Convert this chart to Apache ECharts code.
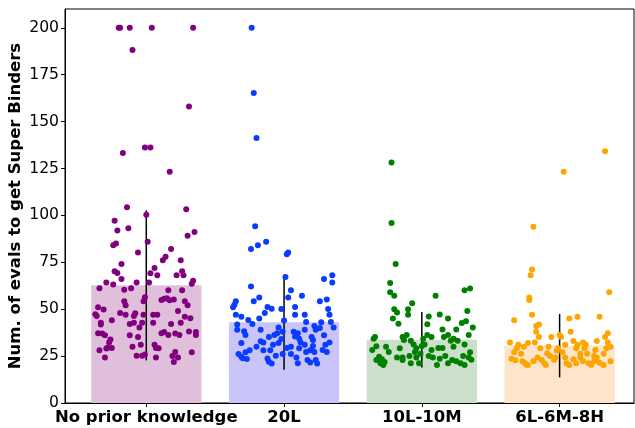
<!DOCTYPE html>
<html>
<head>
<meta charset="utf-8">
<script src="https://cdn.jsdelivr.net/npm/echarts@6/dist/echarts.min.js"></script>
<style>
html, body { margin: 0; padding: 0; background: #fff; }
#chart { width: 635px; height: 428px; }
</style>
</head>
<body>
<div id="chart"></div>
<script>
// categories and bar values (mean +- spread)
const categories = ['No prior knowledge', '20L', '10L-10M', '6L-6M-8H'];
const barMeans = [62.7, 43.0, 33.7, 30.6];
const barErrors = [40.0, 25.3, 14.8, 16.9];
const yTicks = [0, 25, 50, 75, 100, 125, 150, 175, 200];

// points: [x offset from category centre, value]
const pointsNoPrior = [
  [-0.20, 200], [-0.19, 200], [-0.12, 200], [0.04, 200], [0.34, 200], [-0.10, 188.1], [0.31, 158.0],
  [-0.01, 136.2], [0.03, 136.2], [-0.17, 133.2], [0.17, 123.2],
  [-0.14, 104.4], [0.29, 103.3], [0.00, 100.3], [-0.23, 97.2], [-0.21, 91.9], [-0.13, 93.2], [0.35, 91.2],
  [0.30, 89.2], [0.01, 86.0], [-0.24, 84.1], [-0.22, 85.0], [0.18, 82.1], [-0.06, 80.2], [0.14, 77.9],
  [0.12, 76.1], [0.25, 76.1], [-0.18, 74.1], [0.06, 72.0], [-0.23, 70.2], [-0.21, 69.3], [0.03, 69.1],
  [0.08, 68.1], [0.26, 70.2], [0.22, 68.1], [0.27, 68.1], [-0.18, 66.1], [0.34, 65.2], [0.33, 63.5],
  [-0.29, 64.2], [-0.24, 63.1], [-0.07, 64.2], [0.02, 64.2], [-0.34, 61.2], [-0.16, 60.3], [-0.11, 61.2],
  [0.16, 60.1], [0.26, 60.1], [-0.01, 56.4], [-0.02, 54.2], [-0.16, 54.2], [-0.15, 52.1], [0.11, 54.9],
  [0.13, 55.6], [0.15, 55.8], [0.17, 54.7], [0.20, 55.1], [0.28, 54.2], [0.30, 52.1], [-0.35, 51.0],
  [-0.31, 49.9], [0.23, 49.0], [-0.19, 48.0], [-0.37, 47.3], [-0.36, 46.4], [-0.15, 47.0], [-0.08, 47.9],
  [-0.09, 46.4], [-0.02, 47.1], [0.05, 47.1], [0.08, 47.1], [0.28, 46.0], [0.32, 45.2], [-0.25, 44.1],
  [-0.09, 42.8], [-0.12, 42.1], [-0.03, 42.8], [0.05, 42.8], [0.18, 42.1], [0.25, 42.8], [-0.33, 42.8],
  [-0.33, 41.9], [-0.05, 40.2], [-0.35, 37.2], [-0.32, 37.0], [-0.30, 36.1], [-0.12, 36.1], [-0.06, 35.2],
  [0.11, 37.2], [0.13, 37.9], [0.16, 36.3], [0.21, 37.0], [0.24, 36.3], [0.31, 38.1], [0.36, 37.9],
  [0.36, 36.3], [-0.26, 33.8], [-0.27, 32.2], [-0.28, 29.5], [-0.25, 29.3], [-0.29, 29.0], [-0.34, 28.1],
  [-0.10, 30.0], [-0.04, 31.1], [0.06, 31.0], [0.07, 29.3], [0.09, 29.2], [-0.30, 24.2], [-0.07, 25.2],
  [-0.03, 25.2], [-0.01, 25.9], [0.07, 24.2], [0.19, 25.1], [0.21, 27.2], [0.23, 24.2], [0.20, 21.9],
  [0.33, 27.1]
];
const points20L = [
  [-0.235, 200], [-0.22, 165.2], [-0.20, 141.2],
  [-0.21, 94.2], [-0.24, 82.1], [-0.19, 84.1], [-0.13, 86.0], [0.02, 79.3], [0.03, 80.2], [0.01, 67.2],
  [0.29, 66.1], [0.35, 68.1], [0.35, 64.2], [-0.24, 62.1], [0.05, 60.1], [0.13, 57.1], [-0.18, 56.2],
  [-0.22, 54.2], [0.03, 56.2], [-0.35, 54.2], [-0.36, 52.4], [-0.37, 51.0], [0.26, 54.2], [0.31, 55.1],
  [-0.12, 51.2], [-0.09, 50.3], [-0.02, 50.1], [0.08, 51.2], [0.32, 50.1], [-0.35, 47.1], [-0.31, 46.0],
  [-0.14, 48.0], [0.08, 47.1], [0.15, 47.1], [0.33, 47.1], [-0.26, 44.2], [-0.23, 42.1], [-0.18, 45.1],
  [0.00, 44.0], [0.16, 43.2], [0.27, 43.0], [0.34, 43.2], [-0.34, 41.9], [-0.34, 39.1], [-0.29, 38.2],
  [-0.28, 36.3], [-0.17, 39.1], [-0.04, 40.2], [-0.01, 38.0], [0.07, 38.0], [0.10, 37.2], [0.15, 39.1],
  [0.22, 41.0], [0.23, 39.1], [0.26, 40.0], [0.36, 40.2], [-0.05, 37.2], [-0.07, 36.3], [-0.11, 35.2],
  [0.08, 35.4], [0.11, 34.3], [0.20, 35.2], [0.29, 36.1], [-0.31, 32.0], [-0.17, 32.9], [-0.15, 32.2],
  [-0.08, 31.1], [-0.04, 32.0], [-0.02, 34.1], [0.12, 32.4], [0.15, 31.1], [0.21, 30.4], [0.30, 31.1],
  [0.33, 32.2], [-0.20, 30.0], [-0.15, 28.1], [-0.10, 28.1], [0.02, 29.3], [0.05, 30.0], [0.11, 29.2],
  [0.16, 27.2], [0.19, 28.1], [0.22, 27.2], [0.28, 28.3], [0.31, 27.2], [-0.25, 28.1], [-0.28, 27.0],
  [-0.33, 26.1], [-0.31, 24.7], [-0.30, 23.9], [-0.27, 23.4], [-0.12, 23.7], [-0.11, 22.0], [-0.09, 21.0],
  [-0.06, 25.2], [-0.01, 26.1], [0.05, 26.1], [0.09, 24.2], [0.10, 21.2], [0.17, 22.9], [0.19, 21.6],
  [0.23, 22.9], [0.24, 21.0], [0.21, 33.6]
];
const points10L10M = [
  [-0.22, 128.2], [-0.22, 96.0], [-0.19, 74.1], [-0.23, 64.0], [-0.23, 59.0], [-0.20, 57.1], [0.10, 57.1],
  [0.31, 60.1], [0.35, 61.0], [-0.07, 53.2], [-0.20, 50.0], [-0.18, 48.2], [-0.10, 50.0], [-0.10, 47.0],
  [-0.21, 45.0], [-0.17, 42.2], [0.13, 47.2], [0.19, 45.0], [0.33, 49.1], [0.32, 43.6], [0.29, 42.6],
  [0.37, 40.2], [0.05, 46.1], [0.04, 42.0], [0.15, 39.2], [0.25, 39.2], [0.34, 36.2], [-0.34, 35.2],
  [-0.35, 34.2], [-0.14, 35.2], [-0.11, 36.2], [-0.08, 33.2], [0.01, 34.2], [0.04, 36.2], [0.07, 35.2],
  [0.16, 35.2], [0.19, 36.2], [0.21, 33.2], [0.23, 34.2], [0.26, 33.2], [0.31, 31.2], [-0.36, 28.3],
  [-0.33, 30.2], [-0.26, 30.0], [-0.24, 27.2], [-0.16, 29.2], [-0.06, 31.2], [-0.04, 29.2], [0.00, 30.4],
  [0.02, 31.2], [0.12, 29.3], [0.15, 29.3], [0.23, 30.0], [0.07, 28.3], [-0.05, 27.2], [-0.01, 26.3],
  [0.35, 27.1], [-0.31, 24.7], [-0.29, 23.3], [-0.30, 21.2], [-0.28, 20.2], [-0.33, 22.9], [-0.18, 24.2],
  [-0.14, 24.2], [-0.14, 22.9], [-0.09, 25.1], [-0.08, 21.2], [-0.04, 24.2], [-0.02, 21.2], [0.05, 25.1],
  [0.08, 24.2], [0.11, 20.2], [0.13, 23.6], [0.17, 25.1], [0.19, 21.2], [0.22, 22.9], [0.25, 22.3],
  [0.28, 21.2], [0.31, 20.2], [0.30, 25.1], [0.34, 24.2], [0.36, 23.1], [-0.27, 21.9], [-0.13, 33.6]
];
const points6L6M8H = [
  [0.33, 134.2], [0.03, 123.2], [-0.19, 94.0], [-0.20, 71.1], [-0.21, 68.1], [-0.22, 56.2], [-0.22, 54.9],
  [0.36, 59.0], [-0.20, 47.1], [-0.33, 44.1], [0.07, 45.0], [0.13, 46.0], [0.29, 46.0], [-0.15, 41.9],
  [-0.17, 41.0], [-0.17, 38.0], [0.08, 38.0], [0.35, 37.2], [-0.15, 35.2], [-0.06, 35.2], [0.00, 36.2],
  [0.01, 35.2], [0.33, 35.2], [-0.36, 32.2], [-0.30, 31.1], [-0.23, 32.0], [-0.18, 32.2], [0.04, 31.0],
  [0.10, 33.1], [0.13, 31.1], [0.17, 32.2], [0.19, 31.1], [0.27, 33.1], [0.35, 32.2], [-0.26, 30.0],
  [-0.31, 29.2], [-0.14, 29.2], [-0.08, 30.0], [-0.01, 29.2], [0.12, 29.2], [0.18, 29.2], [0.26, 28.3],
  [0.34, 29.2], [0.37, 30.0], [-0.33, 27.1], [-0.28, 26.2], [-0.09, 26.5], [-0.07, 25.1], [-0.02, 28.0],
  [0.02, 27.1], [0.15, 26.2], [0.20, 26.2], [0.25, 25.1], [0.27, 24.2], [0.32, 26.2], [-0.35, 23.6],
  [-0.32, 22.8], [-0.27, 22.3], [-0.25, 21.2], [-0.23, 20.2], [-0.19, 22.3], [-0.16, 24.2], [-0.13, 22.9],
  [-0.11, 21.2], [-0.10, 20.2], [-0.04, 23.1], [-0.03, 24.2], [0.04, 24.2], [0.05, 21.2], [0.07, 20.2],
  [0.10, 23.3], [0.12, 21.2], [0.15, 24.2], [0.17, 22.3], [0.21, 21.2], [0.23, 20.2], [0.25, 22.3],
  [0.29, 21.4], [0.32, 20.2], [0.37, 22.3], [-0.24, 20.4]
];

const pointSets = [pointsNoPrior, points20L, points10L10M, points6L6M8H];
const dotColors = ['#800080', '#0a3cff', '#008000', '#ffa500'];
const barColors = ['#e0bfdb', '#c9c5fb', '#cbdfca', '#fee4c8'];
const barHalfWidth = 0.4;

const chart = echarts.init(document.getElementById('chart'));

const scatterSeries = pointSets.map((pts, i) => ({
  type: 'scatter',
  data: pts.map(p => [i + p[0], p[1]]),
  symbolSize: 6,
  itemStyle: { color: dotColors[i], opacity: 1 },
  z: 4
}));

const option = {
  animation: false,
  grid: {
    left: 65, right: 1, top: 9, bottom: 25,
    outerBoundsMode: 'none', containLabel: false,
    show: true, borderColor: '#000', borderWidth: 1, backgroundColor: 'transparent'
  },
  xAxis: {
    type: 'value',
    min: -0.59,
    max: 3.54,
    splitLine: { show: false },
    axisLine: { show: true, onZero: false, lineStyle: { color: '#000' } },
    axisTick: { show: true, customValues: [0, 1, 2, 3], length: 4, lineStyle: { color: '#000' } },
    axisLabel: {
      customValues: [0, 1, 2, 3],
      formatter: v => categories[Math.round(v)],
      color: '#000', fontFamily: 'DejaVu Sans', fontWeight: 'bold', fontSize: 16.5, margin: 6
    }
  },
  yAxis: {
    type: 'value',
    min: 0,
    max: 210,
    interval: 25,
    name: 'Num. of evals to get Super Binders',
    nameLocation: 'middle',
    nameGap: 41,
    nameMoveOverlap: false,
    nameTextStyle: { color: '#000', fontFamily: 'DejaVu Sans', fontWeight: 'bold', fontSize: 16.5 },
    splitLine: { show: false },
    axisLine: { show: true, onZero: false, lineStyle: { color: '#000' } },
    axisTick: { show: true, customValues: yTicks, length: 4, lineStyle: { color: '#000' } },
    axisLabel: {
      customValues: yTicks,
      color: '#000', fontFamily: 'DejaVu Sans', fontSize: 15.6, margin: 6
    }
  },
  series: [
    {
      // bars drawn through the axes' scales
      type: 'custom',
      data: barMeans.map((m, i) => [i, m]),
      renderItem: (params, api) => {
        const i = api.value(0);
        const tl = api.coord([i - barHalfWidth, api.value(1)]);
        const br = api.coord([i + barHalfWidth, 0]);
        return {
          type: 'rect',
          shape: { x: tl[0], y: tl[1], width: br[0] - tl[0], height: br[1] - tl[1] },
          style: { fill: barColors[params.dataIndex] }
        };
      },
      z: 1
    },
    {
      type: 'custom',
      data: barMeans.map((m, i) => [i, m - barErrors[i], m + barErrors[i]]),
      renderItem: (params, api) => {
        const lo = api.coord([api.value(0), api.value(1)]);
        const hi = api.coord([api.value(0), api.value(2)]);
        return {
          type: 'line',
          shape: { x1: lo[0], y1: lo[1], x2: hi[0], y2: hi[1] },
          style: { stroke: '#000', lineWidth: 1.5 }
        };
      },
      z: 3
    },
    ...scatterSeries
  ]
};

chart.setOption(option);
</script>
</body>
</html>
